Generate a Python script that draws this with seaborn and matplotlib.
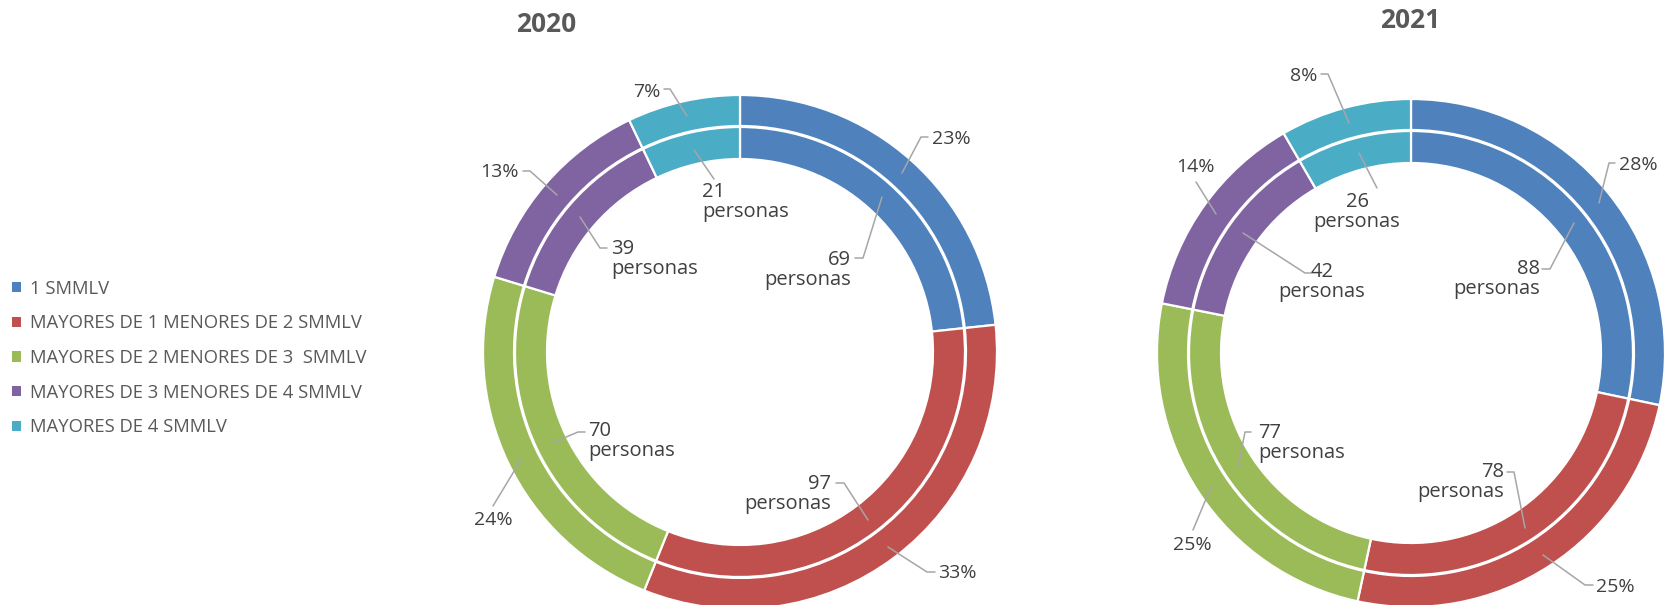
import numpy as np
import matplotlib
matplotlib.use("Agg")
import matplotlib.pyplot as plt
from matplotlib.patches import Patch
import seaborn as sns

# ---------------- data ----------------
categories = [
    "1 SMMLV",
    "MAYORES DE 1 MENORES DE 2 SMMLV",
    "MAYORES DE 2 MENORES DE 3  SMMLV",
    "MAYORES DE 3 MENORES DE 4 SMMLV",
    "MAYORES DE 4 SMMLV",
]
years = ["2020", "2021"]
personas_2020 = [69, 97, 70, 39, 21]
personas_2021 = [88, 78, 77, 42, 26]
colors = ["#4F81BD", "#C0504D", "#9BBB59", "#8064A2", "#4BACC6"]

# ---------------- style ----------------
sns.set_theme(style="white")
plt.rcParams["font.family"] = ["Open Sans", "DejaVu Sans"]
palette = sns.color_palette(colors)

W, H = 1669, 605
fig = plt.figure(figsize=(W / 100, H / 100), dpi=100)
ax = fig.add_axes([0, 0, 1, 1])

LABEL_C = "#404040"
LINE_C = "#A6A6A6"

# layout: chart centre / radius (figure pixels, y from top), title position,
# and label placement (text position + leader polyline)
layouts = {
    "2020": dict(
        center=(740, 352), R=257, title=(546, 24),
        outer=[
            dict(pos=(932, 139), ha="left", line=[(902, 173), (921, 137), (928, 137)]),
            dict(pos=(938, 573), ha="left", line=[(888, 547), (927, 572), (935, 572)]),
            dict(pos=(493, 520), ha="center", line=[(522, 458), (493, 506)]),
            dict(pos=(519, 172), ha="right", line=[(557, 195), (530, 171), (523, 171)]),
            dict(pos=(660, 92), ha="right", line=[(687, 116), (670, 89), (664, 89)]),
        ],
        inner=[
            dict(pos=(851, 270), ha="right", line=[(882, 197), (863, 258), (855, 258)]),
            dict(pos=(831, 494), ha="right", line=[(868, 520), (844, 483), (836, 483)]),
            dict(pos=(588, 441), ha="left", line=[(552, 443), (578, 432), (585, 432)]),
            dict(pos=(611, 259), ha="left", line=[(580, 217), (600, 248), (607, 248)]),
            dict(pos=(702, 202), ha="left", line=[(694, 150), (714, 179)]),
        ],
    ),
    "2021": dict(
        center=(1411, 353), R=254, title=(1410, 20),
        outer=[
            dict(pos=(1619, 165), ha="left", line=[(1599, 203), (1609, 163), (1615, 163)]),
            dict(pos=(1596, 587), ha="left", line=[(1543, 555), (1585, 585), (1593, 585)]),
            dict(pos=(1192, 545), ha="center", line=[(1211, 487), (1193, 530)]),
            dict(pos=(1195, 167), ha="center", line=[(1216, 214), (1196, 182)]),
            dict(pos=(1317, 76), ha="right", line=[(1349, 123), (1328, 74), (1321, 74)]),
        ],
        inner=[
            dict(pos=(1540, 279), ha="right", line=[(1574, 223), (1550, 269), (1542, 269)]),
            dict(pos=(1504, 482), ha="right", line=[(1525, 528), (1514, 472), (1507, 472)]),
            dict(pos=(1258, 443), ha="left", line=[(1238, 467), (1245, 432), (1251, 432)]),
            dict(pos=(1322, 282), ha="center", line=[(1243, 233), (1305, 273), (1311, 273)]),
            dict(pos=(1357, 212), ha="center", line=[(1359, 153), (1377, 188)]),
        ],
    ),
}

RING = 31
data = {"2020": personas_2020, "2021": personas_2021}

for year in years:
    vals = np.array(data[year], dtype=float)
    lay = layouts[year]
    cx, cy = lay["center"]
    R = lay["R"]
    # outer ring: percentages
    ax.pie(vals, radius=R, center=(cx, H - cy), startangle=90,
           counterclock=False, colors=palette,
           wedgeprops=dict(width=RING, edgecolor="white", linewidth=1.6),
           frame=False)
    # inner ring: number of persons
    ax.pie(vals, radius=R - RING - 1, center=(cx, H - cy), startangle=90,
           counterclock=False, colors=palette,
           wedgeprops=dict(width=RING + 1, edgecolor="white", linewidth=1.6),
           frame=False)

    pct = np.round(100 * vals / vals.sum()).astype(int)
    for i, v in enumerate(vals):
        o = lay["outer"][i]
        xs, ys = zip(*o["line"])
        ax.plot(xs, [H - y for y in ys], color=LINE_C, lw=1.1)
        ax.text(o["pos"][0], H - o["pos"][1], f"{pct[i]}%", ha=o["ha"],
                va="center", fontsize=14, color=LABEL_C)

        n = lay["inner"][i]
        xs, ys = zip(*n["line"])
        ax.plot(xs, [H - y for y in ys], color=LINE_C, lw=1.1)
        ax.text(n["pos"][0], H - n["pos"][1], f"{int(v)}\npersonas",
                ha=n["ha"], va="center", multialignment=n["ha"],
                fontsize=14.5, color=LABEL_C, linespacing=0.95)

    tx, ty = lay["title"]
    ax.text(tx, H - ty, year, ha="center", va="center", fontsize=19,
            fontweight="bold", color="#595959")

handles = [Patch(facecolor=c, edgecolor="none") for c in palette]
ax.legend(handles=handles, labels=categories, loc="center left",
          bbox_to_anchor=(12 / W, 1 - 358 / H), frameon=False,
          fontsize=13.3, labelcolor="#595959", handlelength=0.48,
          handleheight=0.48, handletextpad=0.48, labelspacing=0.9,
          borderpad=0, borderaxespad=0)

ax.set_xlim(0, W)
ax.set_ylim(0, H)
ax.set_aspect("equal")
ax.axis("off")

fig.savefig("out.png", dpi=100, facecolor="white")
